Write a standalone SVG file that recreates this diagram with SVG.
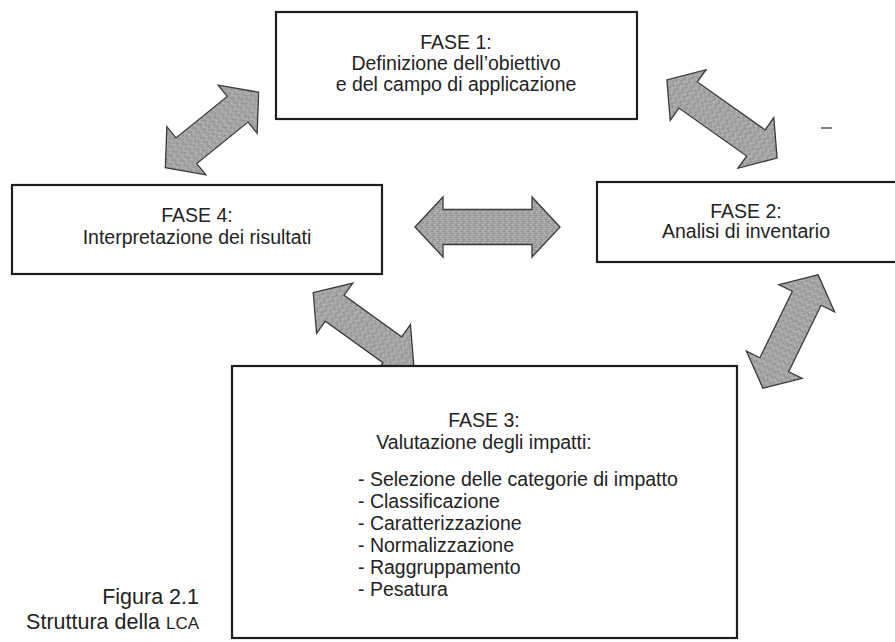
<svg xmlns="http://www.w3.org/2000/svg" width="895" height="642" viewBox="0 0 895 642">
  <style>
    .box { fill: #ffffff; stroke: #1e1e1e; stroke-width: 2.2; }
    .t { font-family: "Liberation Sans", Arial, sans-serif; font-size: 19.5px; fill: #232323; }
    .c { text-anchor: middle; }
    .cap { font-family: "Liberation Sans", Arial, sans-serif; font-size: 21.5px; fill: #232323; text-anchor: end; }
    .arrow { fill: url(#speck); stroke: #3a3a3a; stroke-width: 1.3; stroke-linejoin: miter; }
  </style>
  <defs>
    <pattern id="speck" width="6" height="6" patternUnits="userSpaceOnUse">
      <rect width="6" height="6" fill="#a4a4a4"/>
      <rect x="0" y="0" width="1" height="1" fill="#7a7a7a"/>
      <rect x="3" y="1" width="1" height="1" fill="#c4c4c4"/>
      <rect x="1" y="3" width="1" height="1" fill="#c8c8c8"/>
      <rect x="4" y="4" width="1" height="1" fill="#808080"/>
      <rect x="5" y="2" width="1" height="1" fill="#8c8c8c"/>
      <rect x="2" y="5" width="1" height="1" fill="#b8b8b8"/>
    </pattern>
  </defs>
  <rect width="895" height="642" fill="#ffffff"/>

  <g id="connectors">
    <!-- FASE 1 <-> FASE 4 -->
    <polygon class="arrow" transform="translate(212,130) rotate(-39)" points="-60,0 -33,-31 -33,-16.5 33,-16.5 33,-31 60,0 33,31 33,16.5 -33,16.5 -33,31"/>
    <!-- FASE 1 <-> FASE 2 -->
    <polygon class="arrow" transform="translate(722,119) rotate(35.3)" points="-67.5,0 -41.5,-31 -41.5,-16 41.5,-16 41.5,-31 67.5,0 41.5,31 41.5,16 -41.5,16 -41.5,31"/>
    <!-- FASE 4 <-> FASE 2 -->
    <polygon class="arrow" transform="translate(487.5,227)" points="-72.5,0 -44.5,-30 -44.5,-17.5 44.5,-17.5 44.5,-30 72.5,0 44.5,30 44.5,17.5 -44.5,17.5 -44.5,30"/>
    <!-- FASE 4 <-> FASE 3 -->
    <polygon class="arrow" transform="translate(363.5,329) rotate(35.8)" points="-62,0 -35.5,-31 -35.5,-16 35.5,-16 35.5,-31 62,0 35.5,31 35.5,16 -35.5,16 -35.5,31"/>
    <!-- FASE 2 <-> FASE 3 -->
    <polygon class="arrow" transform="translate(790.5,331.5) rotate(-64)" points="-63,0 -37,-31 -37,-16 37,-16 37,-31 63,0 37,31 37,16 -37,16 -37,31"/>
  </g>

  <g id="fase1">
    <rect class="box" x="276" y="12" width="361" height="107"/>
    <text class="t c" x="456" y="49">FASE 1:</text>
    <text class="t c" x="456" y="70">Definizione dell’obiettivo</text>
    <text class="t c" x="456" y="91">e del campo di applicazione</text>
  </g>

  <g id="fase2">
    <rect class="box" x="597" y="182" width="310" height="80"/>
    <text class="t c" x="746" y="218">FASE 2:</text>
    <text class="t c" x="746" y="238">Analisi di inventario</text>
  </g>

  <g id="fase4">
    <rect class="box" x="12" y="185" width="370" height="89"/>
    <text class="t c" x="197" y="222">FASE 4:</text>
    <text class="t c" x="197" y="244">Interpretazione dei risultati</text>
  </g>

  <g id="fase3">
    <rect class="box" x="232" y="366" width="505" height="272"/>
    <text class="t c" x="484" y="427">FASE 3:</text>
    <text class="t c" x="484" y="449">Valutazione degli impatti:</text>
    <text class="t" x="358" y="486">- Selezione delle categorie di impatto</text>
    <text class="t" x="358" y="508">- Classificazione</text>
    <text class="t" x="358" y="530">- Caratterizzazione</text>
    <text class="t" x="358" y="552">- Normalizzazione</text>
    <text class="t" x="358" y="574">- Raggruppamento</text>
    <text class="t" x="358" y="596">- Pesatura</text>
  </g>

  <g id="caption">
    <text class="cap" x="199" y="604">Figura 2.1</text>
    <text class="cap" x="199" y="629">Struttura della <tspan font-size="17">LCA</tspan></text>
  </g>

  <line x1="821" y1="128" x2="832" y2="128" stroke="#555" stroke-width="1.5"/>
</svg>
